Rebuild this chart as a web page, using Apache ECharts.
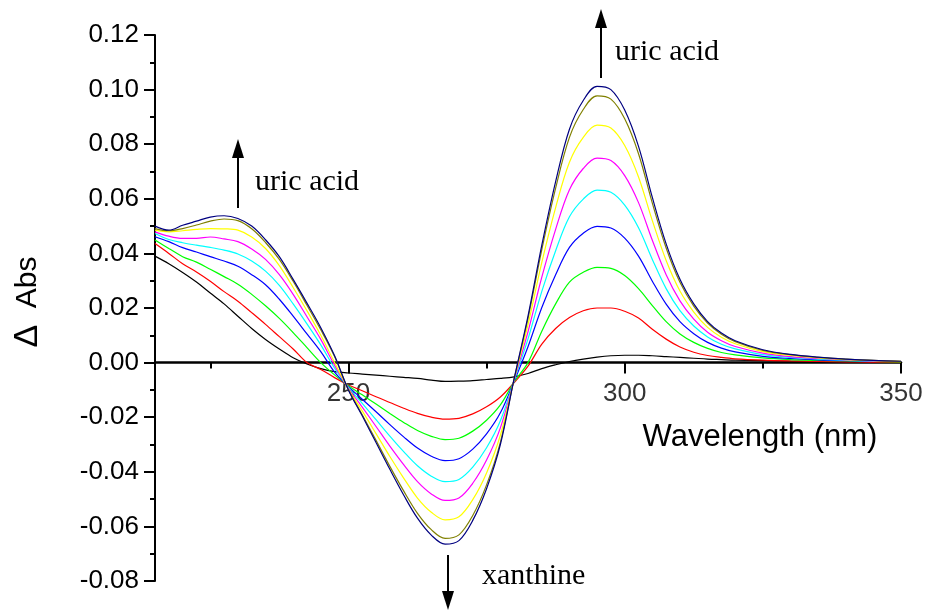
<!DOCTYPE html>
<html>
<head>
<meta charset="utf-8">
<script src="https://cdn.jsdelivr.net/npm/echarts@6/dist/echarts.min.js"></script>
<style>
  html, body { margin: 0; padding: 0; background: #fff; }
  #main { width: 930px; height: 613px; }
</style>
</head>
<body>
<div id="main"></div>
<script>
// wavelength grid (nm)
var wavelength = [215, 217.5, 220, 222.5, 225, 227.5, 230, 232.5, 235, 237.5, 240, 242.5, 245, 247.5,
  250, 252.5, 255, 257.5, 260, 262.5, 265, 267.5, 270, 272.5, 275, 277.5, 280, 282.5, 285, 287.5,
  290, 292.5, 295, 297.5, 300, 302.5, 305, 307.5, 310, 312.5, 315, 317.5, 320,
  325, 330, 335, 340, 345, 350];

// difference absorbance of each trace
var trBlack = [0.0390, 0.0362, 0.0330, 0.0295, 0.0255, 0.0215, 0.0170, 0.0125, 0.0085, 0.0050, 0.0018, -0.0005, -0.0022, -0.0033,
  -0.0038, -0.0042, -0.0046, -0.0050, -0.0054, -0.0058, -0.0064, -0.0069, -0.0068, -0.0066, -0.0062, -0.0058, -0.0052, -0.0040, -0.0022, -0.0008,
  0.0004, 0.0013, 0.0020, 0.0025, 0.0027, 0.0027, 0.0025, 0.0022, 0.0019, 0.0016, 0.0013, 0.0011, 0.0009,
  0.0007, 0.0005, 0.0004, 0.0003, 0.0003, 0.0003];
var trRed = [0.0436, 0.0400, 0.0362, 0.0332, 0.0298, 0.0260, 0.0225, 0.0183, 0.0140, 0.0095, 0.0050, 0.0000, -0.0025, -0.0055,
  -0.0082, -0.0103, -0.0125, -0.0146, -0.0167, -0.0186, -0.0200, -0.0207, -0.0204, -0.0188, -0.0162, -0.0126, -0.0073, -0.0013, 0.0068, 0.0125,
  0.0165, 0.0190, 0.0200, 0.0200, 0.0188, 0.0163, 0.0122, 0.0086, 0.0057, 0.0038, 0.0026, 0.0019, 0.0014,
  0.0009, 0.0006, 0.0004, 0.0003, 0.0002, 0.0002];
var trGreen = [0.0449, 0.0418, 0.0388, 0.0368, 0.0342, 0.0315, 0.0287, 0.0250, 0.0208, 0.0162, 0.0110, 0.0055, 0.0000, -0.0045,
  -0.0085, -0.0118, -0.0152, -0.0186, -0.0219, -0.0249, -0.0270, -0.0282, -0.0277, -0.0251, -0.0211, -0.0155, -0.0070, 0.0000, 0.0115, 0.0215,
  0.0295, 0.0331, 0.0349, 0.0345, 0.0319, 0.0271, 0.0209, 0.0150, 0.0105, 0.0074, 0.0052, 0.0037, 0.0028,
  0.0017, 0.0011, 0.0008, 0.0006, 0.0004, 0.0003];
var trBlue = [0.0461, 0.0443, 0.0421, 0.0405, 0.0388, 0.0372, 0.0353, 0.0322, 0.0285, 0.0232, 0.0170, 0.0105, 0.0040, -0.0035,
  -0.0088, -0.0134, -0.0180, -0.0227, -0.0272, -0.0313, -0.0343, -0.0359, -0.0352, -0.0317, -0.0261, -0.0184, -0.0068, 0.0058, 0.0202, 0.0322,
  0.0422, 0.0474, 0.0499, 0.0493, 0.0456, 0.0390, 0.0298, 0.0214, 0.0150, 0.0106, 0.0074, 0.0053, 0.0039,
  0.0023, 0.0015, 0.0010, 0.0007, 0.0005, 0.0004];
var trCyan = [0.0473, 0.0451, 0.0439, 0.0430, 0.0422, 0.0412, 0.0398, 0.0372, 0.0335, 0.0283, 0.0215, 0.0142, 0.0065, -0.0020,
  -0.0091, -0.0149, -0.0209, -0.0269, -0.0326, -0.0378, -0.0416, -0.0436, -0.0428, -0.0383, -0.0312, -0.0213, -0.0065, 0.0087, 0.0261, 0.0410,
  0.0534, 0.0599, 0.0632, 0.0624, 0.0577, 0.0494, 0.0378, 0.0271, 0.0190, 0.0134, 0.0094, 0.0067, 0.0050,
  0.0029, 0.0019, 0.0013, 0.0008, 0.0005, 0.0004];
var trMagenta = [0.0479, 0.0463, 0.0455, 0.0455, 0.0460, 0.0453, 0.0443, 0.0416, 0.0378, 0.0322, 0.0250, 0.0168, 0.0085, -0.0010,
  -0.0094, -0.0163, -0.0234, -0.0306, -0.0374, -0.0436, -0.0481, -0.0505, -0.0496, -0.0442, -0.0357, -0.0239, -0.0063, 0.0113, 0.0313, 0.0488,
  0.0633, 0.0711, 0.0749, 0.0740, 0.0685, 0.0586, 0.0448, 0.0322, 0.0226, 0.0159, 0.0111, 0.0080, 0.0059,
  0.0035, 0.0022, 0.0015, 0.0010, 0.0006, 0.0004];
var trYellow = [0.0485, 0.0479, 0.0483, 0.0488, 0.0491, 0.0490, 0.0485, 0.0460, 0.0418, 0.0355, 0.0275, 0.0190, 0.0100, 0.0000,
  -0.0097, -0.0177, -0.0260, -0.0344, -0.0423, -0.0496, -0.0548, -0.0576, -0.0565, -0.0502, -0.0404, -0.0266, -0.0061, 0.0139, 0.0367, 0.0568,
  0.0734, 0.0825, 0.0870, 0.0859, 0.0795, 0.0680, 0.0520, 0.0374, 0.0262, 0.0185, 0.0129, 0.0093, 0.0069,
  0.0040, 0.0026, 0.0017, 0.0011, 0.0007, 0.0005];
var trOlive = [0.0491, 0.0483, 0.0491, 0.0504, 0.0518, 0.0526, 0.0520, 0.0490, 0.0440, 0.0378, 0.0298, 0.0210, 0.0120, 0.0022,
  -0.0099, -0.0191, -0.0285, -0.0380, -0.0470, -0.0552, -0.0612, -0.0644, -0.0631, -0.0560, -0.0448, -0.0292, -0.0059, 0.0162, 0.0414, 0.0639,
  0.0825, 0.0927, 0.0977, 0.0965, 0.0893, 0.0765, 0.0584, 0.0420, 0.0294, 0.0207, 0.0145, 0.0104, 0.0077,
  0.0045, 0.0029, 0.0019, 0.0013, 0.0008, 0.0005];
var trNavy = [0.0500, 0.0485, 0.0503, 0.0518, 0.0533, 0.0538, 0.0528, 0.0500, 0.0450, 0.0388, 0.0305, 0.0218, 0.0128, 0.0025,
  -0.0100, -0.0195, -0.0293, -0.0391, -0.0485, -0.0570, -0.0632, -0.0665, -0.0652, -0.0578, -0.0462, -0.0300, -0.0058, 0.0170, 0.0430, 0.0663,
  0.0855, 0.0960, 0.1012, 0.1000, 0.0925, 0.0792, 0.0605, 0.0435, 0.0305, 0.0215, 0.0150, 0.0108, 0.0080,
  0.0047, 0.0030, 0.0020, 0.0013, 0.0008, 0.0005];

var traces = [trBlack, trRed, trGreen, trBlue, trCyan, trMagenta, trYellow, trOlive, trNavy];
var traceColors = ['#000000', '#ff0000', '#00ff00', '#0000ff', '#00ffff', '#ff00ff', '#ffff00', '#808000', '#000080'];
var majorTicks = [250, 300, 350];
var minorTicks = [225, 275, 325];

var chartDom = document.getElementById('main');
var myChart = echarts.init(chartDom);
var option;

var sans = '"Liberation Sans", Arial, sans-serif';
var serif = '"Liberation Serif", "Times New Roman", serif';

function toPairs(vals) {
  return wavelength.map(function (w, i) { return [w, vals[i]]; });
}

var curveSeries = traces.map(function (vals, i) {
  return {
    type: 'line',
    xAxisIndex: 0,
    data: toPairs(vals),
    smooth: 0.35,
    showSymbol: false,
    silent: true,
    lineStyle: { color: traceColors[i], width: 1.2 },
    itemStyle: { color: traceColors[i] }
  };
});

// x tick labels sit under the zero line, so hang them off points on it
curveSeries.push({
  type: 'scatter',
  xAxisIndex: 0,
  silent: true,
  symbolSize: 1,
  itemStyle: { color: 'rgba(0,0,0,0)' },
  data: majorTicks.map(function (t) { return [t, 0]; }),
  label: {
    show: true,
    position: 'bottom',
    distance: 18,
    color: '#000',
    fontSize: 26,
    fontFamily: sans,
    formatter: function (p) { return String(p.value[0]); }
  }
});

option = {
  animation: false,
  backgroundColor: '#ffffff',
  grid: { left: 155, right: 29, top: 35, bottom: 32, outerBoundsMode: 'none' },
  xAxis: [
    {
      type: 'value',
      min: 215,
      max: 350,
      position: 'bottom',
      axisLine: { onZero: true, onZeroAxisIndex: 0, lineStyle: { color: '#000', width: 2.5 } },
      axisTick: { customValues: majorTicks, length: 11, lineStyle: { color: '#000', width: 2 } },
      axisLabel: { show: false },
      splitLine: { show: false }
    },
    {
      type: 'value',
      min: 215,
      max: 350,
      position: 'bottom',
      axisLine: { show: false, onZero: true, onZeroAxisIndex: 0 },
      axisTick: { customValues: minorTicks, length: 6, lineStyle: { color: '#000', width: 2 } },
      axisLabel: { show: false },
      splitLine: { show: false }
    }
  ],
  yAxis: {
    type: 'value',
    min: -0.08,
    max: 0.12,
    interval: 0.02,
    axisLine: { show: true, lineStyle: { color: '#000', width: 2 } },
    axisTick: { show: true, length: 11, lineStyle: { color: '#000', width: 2 } },
    minorTick: { show: true, splitNumber: 2, length: 5, lineStyle: { color: '#000', width: 2 } },
    axisLabel: {
      color: '#000',
      fontSize: 26,
      fontFamily: sans,
      margin: 16,
      formatter: function (v) { return v.toFixed(2); }
    },
    splitLine: { show: false }
  },
  series: curveSeries,
  graphic: [
    // arrow + label near the 230 nm shoulder
    { type: 'line', shape: { x1: 238, y1: 156, x2: 238, y2: 208 }, style: { stroke: '#000', lineWidth: 2 } },
    { type: 'polygon', shape: { points: [[238, 139], [232, 158], [244, 158]] }, style: { fill: '#000' } },
    { type: 'text', x: 255, y: 182, style: { text: 'uric acid', font: '30px ' + serif, fill: '#000', verticalAlign: 'middle' } },
    // arrow + label above the 295 nm band
    { type: 'line', shape: { x1: 601, y1: 26, x2: 601, y2: 78 }, style: { stroke: '#000', lineWidth: 2 } },
    { type: 'polygon', shape: { points: [[601, 9], [595, 28], [607, 28]] }, style: { fill: '#000' } },
    { type: 'text', x: 615, y: 52, style: { text: 'uric acid', font: '30px ' + serif, fill: '#000', verticalAlign: 'middle' } },
    // arrow + label below the 268 nm band
    { type: 'line', shape: { x1: 448, y1: 555, x2: 448, y2: 593 }, style: { stroke: '#000', lineWidth: 2 } },
    { type: 'polygon', shape: { points: [[448, 610], [442, 591], [454, 591]] }, style: { fill: '#000' } },
    { type: 'text', x: 482, y: 576, style: { text: 'xanthine', font: '30px ' + serif, fill: '#000', verticalAlign: 'middle' } },
    // axis titles
    { type: 'text', x: 760, y: 437, style: { text: 'Wavelength (nm)', font: '31px ' + sans, fill: '#000', align: 'center', verticalAlign: 'middle' } },
    {
      type: 'text', x: 28, y: 302, rotation: Math.PI / 2,
      style: {
        text: '{d|Δ}{t|  Abs}',
        align: 'center',
        verticalAlign: 'middle',
        rich: {
          d: { font: '34px ' + sans, fill: '#000' },
          t: { font: '30px ' + sans, fill: '#000' }
        }
      }
    }
  ]
};

option && myChart.setOption(option);
</script>
</body>
</html>
